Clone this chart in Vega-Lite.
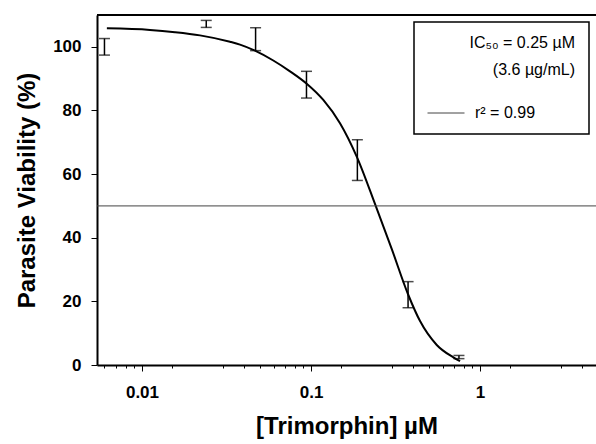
{
  "$schema": "https://vega.github.io/schema/vega-lite/v6.json",
  "width": 499,
  "height": 350,
  "autosize": {"type": "none"},
  "padding": {"left": 97, "top": 15, "right": 0, "bottom": 79},
  "background": "white",
  "config": {
    "view": {"stroke": null},
    "font": "Liberation Sans",
    "legend": {"strokeWidth": 1.5},
    "axis": {"domainColor": "black", "tickColor": "black", "domainWidth": 2, "tickWidth": 1, "labelColor": "black", "titleColor": "black"}
  },
  "datasets": {
    "bars": [
      {"conc": 0.006, "lo": 97.4, "hi": 102.6},
      {"conc": 0.024, "lo": 106.1, "hi": 108.3},
      {"conc": 0.047, "lo": 98.8, "hi": 106.0},
      {"conc": 0.094, "lo": 83.9, "hi": 92.3},
      {"conc": 0.188, "lo": 58.0, "hi": 70.8},
      {"conc": 0.375, "lo": 18.0, "hi": 26.2},
      {"conc": 0.75, "lo": 2.0, "hi": 3.0}
    ],
    "curve": [
      {"conc": 0.0062, "v": 105.8},
      {"conc": 0.01115, "v": 105.3},
      {"conc": 0.01567, "v": 104.6},
      {"conc": 0.02204, "v": 103.6},
      {"conc": 0.03317, "v": 101.6},
      {"conc": 0.03801, "v": 100.7},
      {"conc": 0.04661, "v": 98.8},
      {"conc": 0.05981, "v": 95.7},
      {"conc": 0.0751, "v": 92.3},
      {"conc": 0.09431, "v": 88.4},
      {"conc": 0.1182, "v": 83.3},
      {"conc": 0.1484, "v": 76.0},
      {"conc": 0.1864, "v": 65.5},
      {"conc": 0.2414, "v": 50.0},
      {"conc": 0.3001, "v": 36.5},
      {"conc": 0.3764, "v": 22.0},
      {"conc": 0.4415, "v": 13.8},
      {"conc": 0.5543, "v": 6.3},
      {"conc": 0.695, "v": 2.4},
      {"conc": 0.7613, "v": 1.2}
    ]
  },
  "layer": [
    {
      "data": {"name": "curve"},
      "mark": {"type": "line", "color": "black", "strokeWidth": 2, "interpolate": "monotone"},
      "encoding": {
        "x": {
          "field": "conc",
          "type": "quantitative",
          "title": "[Trimorphin] µM",
          "scale": {"type": "log", "domain": [0.00542, 4.85], "nice": false},
          "axis": {
            "values": [0.006, 0.007, 0.008, 0.009, 0.01, 0.015, 0.03, 0.04, 0.05, 0.06, 0.07, 0.08, 0.09, 0.1, 0.15, 0.3, 0.4, 0.5, 0.6, 0.7, 0.8, 0.9, 1, 1.5, 3, 4],
            "format": "~g",
            "labelExpr": "abs(log(datum.value)/LN10 - round(log(datum.value)/LN10)) < 0.001 ? datum.label : ''",
            "tickSize": {"condition": {"test": "abs(log(datum.value)/LN10 - round(log(datum.value)/LN10)) < 0.001", "value": 6}, "value": 3},
            "tickColor": "black",
            "tickWidth": 1,
            "domainColor": "black",
            "domainWidth": 2,
            "grid": false,
            "labelFont": "Liberation Sans",
            "labelFontSize": 17,
            "labelFontWeight": "bold",
            "labelColor": "black",
            "labelPadding": 13,
            "labelFlush": false,
            "labelOverlap": false,
            "titleFont": "Liberation Sans",
            "titleFontSize": 24,
            "titleFontWeight": "bold",
            "titleColor": "black",
            "titlePadding": 14
          }
        },
        "y": {
          "field": "v",
          "type": "quantitative",
          "title": "Parasite Viability (%)",
          "scale": {"domain": [0, 110], "nice": false},
          "axis": {
            "values": [0, 10, 20, 30, 40, 50, 60, 70, 80, 90, 100],
            "labelExpr": "datum.value % 20 === 0 ? datum.label : ''",
            "tickSize": {"condition": {"test": "datum.value % 20 === 0", "value": 6}, "value": 3},
            "tickColor": "black",
            "tickWidth": 1,
            "domainColor": "black",
            "domainWidth": 2,
            "grid": false,
            "labelFont": "Liberation Sans",
            "labelFontSize": 17,
            "labelFontWeight": "bold",
            "labelColor": "black",
            "labelPadding": 10,
            "labelOverlap": false,
            "titleFont": "Liberation Sans",
            "titleFontSize": 24,
            "titleFontWeight": "bold",
            "titleColor": "black",
            "titlePadding": 13
          }
        }
      }
    },
    {
      "data": {"values": [{"level": 50}]},
      "mark": {"type": "rule", "strokeWidth": 1},
      "encoding": {
        "y": {"field": "level", "type": "quantitative", "title": "Parasite Viability (%)"},
        "stroke": {
          "datum": "r² = 0.99",
          "type": "nominal",
          "scale": {"range": ["#444444"]},
          "legend": {
            "orient": "top-right",
            "offset": 7,
            "title": ["IC₅₀ = 0.25 µM", "(3.6 µg/mL)"],
            "titleFont": "Liberation Sans",
            "titleFontSize": 16,
            "titleFontWeight": "normal",
            "titleColor": "black",
            "titleAnchor": "end",
            "titleAlign": "right",
            "titleBaseline": "top",
            "titleLineHeight": 27,
            "titlePadding": 16,
            "titleLimit": 0,
            "labelFont": "Liberation Sans",
            "labelFontSize": 16,
            "labelColor": "black",
            "labelOffset": 10,
            "labelLimit": 0,
            "labelExpr": "datum.label + '\u00a0\u00a0\u00a0\u00a0\u00a0\u00a0\u00a0\u00a0\u00a0\u200b'",
            "symbolType": "stroke",
            "symbolSize": 1369,
            "symbolStrokeWidth": 1,
            "strokeColor": "black",
            "fillColor": "white",
            "padding": 13
          }
        }
      }
    },
    {
      "data": {"values": [{"level": 50}]},
      "mark": {"type": "rule", "color": "black", "strokeWidth": 2},
      "encoding": {"y": {"datum": 110, "type": "quantitative", "title": "Parasite Viability (%)"}}
    },
    {
      "data": {"name": "bars"},
      "mark": {"type": "rule", "color": "black", "strokeWidth": 1.5},
      "encoding": {
        "x": {"field": "conc", "type": "quantitative", "title": "[Trimorphin] µM"},
        "y": {"field": "lo", "type": "quantitative", "title": "Parasite Viability (%)"},
        "y2": {"field": "hi"}
      }
    },
    {
      "data": {"name": "bars"},
      "transform": [{"fold": ["lo", "hi"], "as": ["end", "v"]}],
      "mark": {"type": "tick", "color": "black", "orient": "horizontal", "size": 11, "thickness": 1.5},
      "encoding": {
        "x": {"field": "conc", "type": "quantitative", "title": "[Trimorphin] µM"},
        "y": {"field": "v", "type": "quantitative", "title": "Parasite Viability (%)"}
      }
    }
  ]
}
